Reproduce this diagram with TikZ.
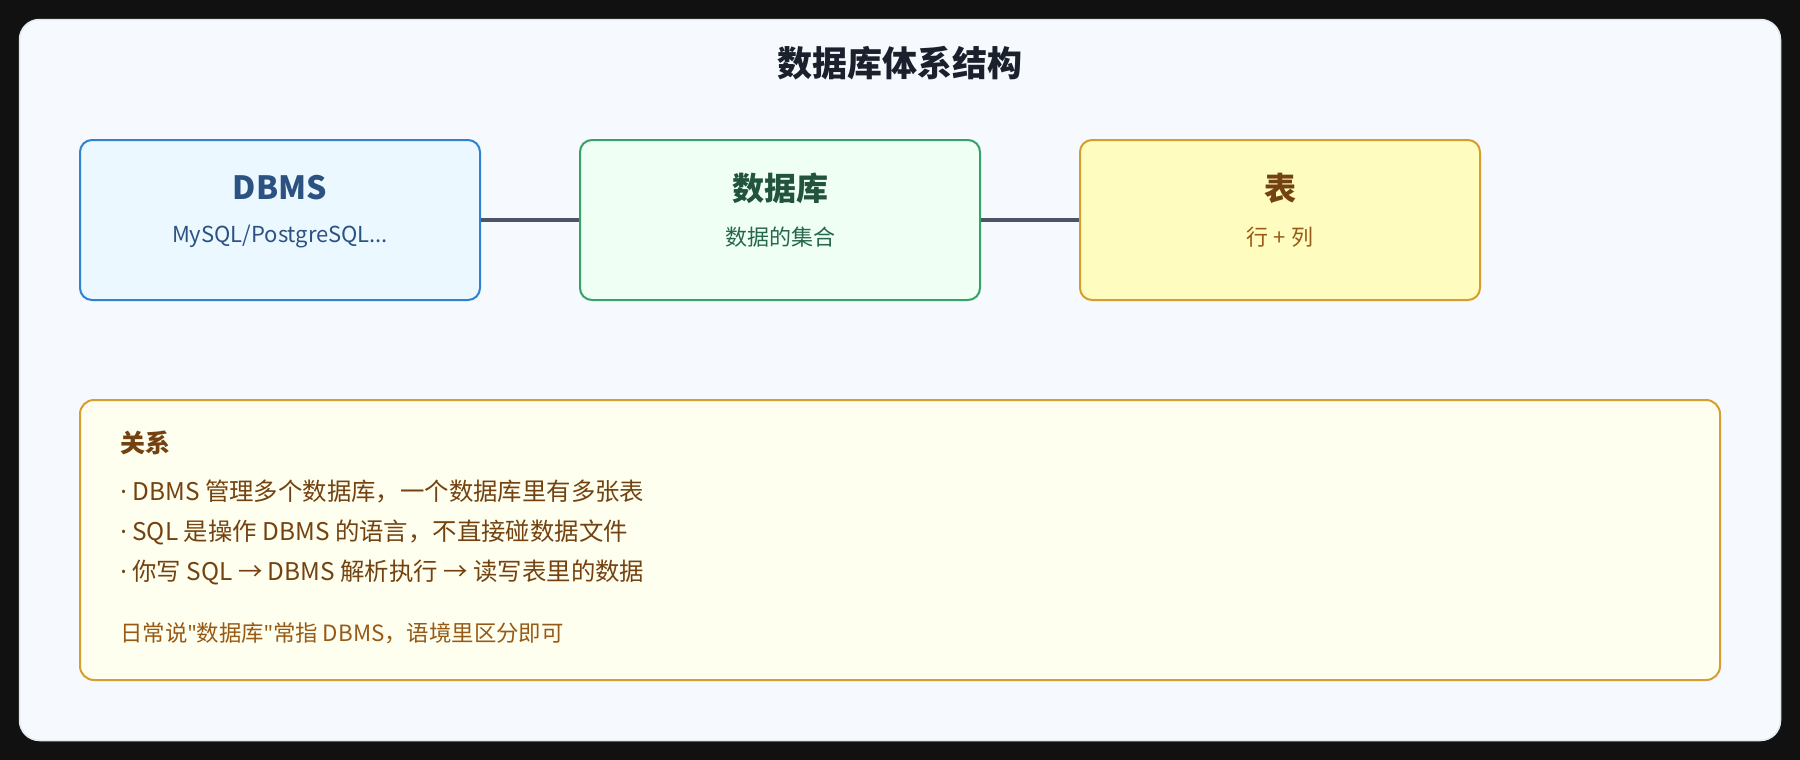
\documentclass[tikz,border=0pt]{standalone}
\usepackage{fontspec}
\setmainfont{Noto Sans CJK SC}[Ligatures=TeXOff]
\newfontfamily\latinfont{Noto Sans}[Ligatures=TeXOff]
\usepackage{xcolor}
\usetikzlibrary{positioning}
\definecolor{pagebg}{HTML}{111111}
\definecolor{panelfill}{HTML}{F6F9FD}
\definecolor{panelline}{HTML}{E2E8F0}
\definecolor{titletext}{HTML}{1A202C}
\definecolor{bluefill}{HTML}{EBF8FF}
\definecolor{blueline}{HTML}{3182CE}
\definecolor{bluetext}{HTML}{2C5282}
\definecolor{greenfill}{HTML}{F0FFF4}
\definecolor{greenline}{HTML}{38A169}
\definecolor{greentext}{HTML}{22543D}
\definecolor{greensub}{HTML}{276749}
\definecolor{yellowfill}{HTML}{FEFCBF}
\definecolor{yellowline}{HTML}{D69E2E}
\definecolor{yellowtext}{HTML}{744210}
\definecolor{yellowsub}{HTML}{975A16}
\definecolor{notefill}{HTML}{FFFFF0}
\definecolor{linkline}{HTML}{4A5568}
\newcommand{\bul}{{\latinfont ·}}
\newcommand{\qt}{{\latinfont "}}

\begin{document}
\begin{tikzpicture}
  [
    x=0.5pt, y=-0.5pt,
    Panel/.style={rectangle, draw=panelline, fill=panelfill, line width=0.75pt, rounded corners=10pt, minimum width=880.5pt, minimum height=360.5pt},
    Box/.style={rectangle, rounded corners=6pt, line width=1pt, minimum width=200pt, minimum height=80pt},
    Blue/.style={Box, draw=blueline, fill=bluefill},
    Green/.style={Box, draw=greenline, fill=greenfill},
    Yellow/.style={Box, draw=yellowline, fill=yellowfill},
    Note/.style={Box, draw=yellowline, fill=notefill, rounded corners=7pt, minimum width=820pt, minimum height=140pt},
    Head/.style={inner sep=0pt, font=\bfseries\fontsize{16}{18}\selectfont},
    Sub/.style={inner sep=0pt, font=\fontsize{11}{13}\selectfont},
    Line/.style={anchor=west, inner sep=0pt, text=yellowtext, font=\fontsize{12.2}{14}\selectfont},
    Link/.style={draw=linkline, line width=2pt}
  ]
  \useasboundingbox[fill=pagebg] (0,0) rectangle (1800,760);
  \node[Panel] (panel) at (900,380) {};
  \node[inner sep=0pt, text=titletext, font=\bfseries\fontsize{17.5}{20}\selectfont] (title) at (900,63) {数据库体系结构};

  % Nodes
  \node[Blue] (dbms) at (280,220) {};
  \node[Green] (db) at (780,220) {};
  \node[Yellow] (tbl) at (1280,220) {};

  \node[Head, text=bluetext] (dbmsT) at (280,188) {DBMS};
  \node[Sub, text=bluetext] (dbmsS) at (280,237) {MySQL/PostgreSQL...};
  \node[Head, text=greentext] (dbT) at (780,188) {数据库};
  \node[Sub, text=greensub] (dbS) at (780,237) {数据的集合};
  \node[Head, text=yellowtext] (tblT) at (1280,188) {表};
  \node[Sub, text=yellowsub] (tblS) at (1280,237) {行 + 列};

  % Links
  \draw[Link] (dbms.east) -- (db.west);
  \draw[Link] (db.east) -- (tbl.west);

  % Note
  \node[Note] (rel) at (900,540) {};
  \node[Line, font=\bfseries\fontsize{12.5}{14}\selectfont] (relT) at (120,443) {关系};
  \node[Line] (rel1) at (120,492) {\bul{} DBMS 管理多个数据库，一个数据库里有多张表};
  \node[Line] (rel2) at (120,532) {\bul{} SQL 是操作 DBMS 的语言，不直接碰数据文件};
  \node[Line] (rel3) at (120,572) {\bul{} 你写 SQL → DBMS 解析执行 → 读写表里的数据};
  \node[Line, text=yellowsub, font=\fontsize{11.2}{12}\selectfont] (relN) at (120,633) {日常说\qt{}数据库\qt{}常指 DBMS，语境里区分即可};
\end{tikzpicture}
\end{document}
